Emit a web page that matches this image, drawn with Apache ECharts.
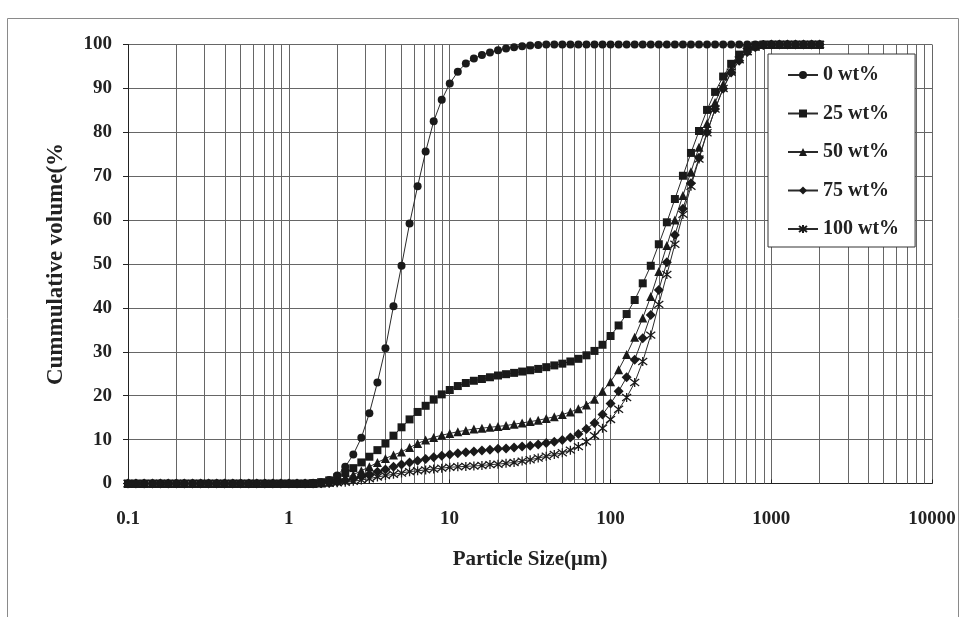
<!DOCTYPE html>
<html>
<head>
<meta charset="utf-8">
<script src="https://cdn.jsdelivr.net/npm/echarts@6/dist/echarts.min.js"></script>
<style>
  html, body { margin: 0; padding: 0; background: #fff; }
  #chart { width: 963px; height: 617px; }
</style>
</head>
<body>
<div id="chart"></div>
<script>
// Particle sizes (µm)
var sizes = [0.1, 0.112, 0.126, 0.142, 0.159, 0.178, 0.2, 0.224, 0.252, 0.283, 0.317, 0.356, 0.399, 0.448, 0.502, 0.564, 0.632, 0.71, 0.796, 0.893,
  1.002, 1.125, 1.262, 1.416, 1.589, 1.783, 2.0, 2.244, 2.518, 2.825, 3.17, 3.557, 3.991, 4.477, 5.024, 5.637, 6.325, 7.096, 7.962, 8.934,
  10.024, 11.247, 12.619, 14.159, 15.887, 17.825, 20.0, 22.44, 25.179, 28.251, 31.698, 35.566, 39.905, 44.774, 50.238, 56.368, 63.246, 70.963, 79.621, 89.337,
  100.237, 112.468, 126.191, 141.589, 158.866, 178.25, 200.0, 224.404, 251.785, 282.508, 316.979, 355.656, 399.052, 447.744, 502.377, 563.677, 632.456, 709.627, 796.214, 893.367,
  1002.374, 1124.683, 1261.915, 1415.892, 1588.656, 1782.502, 2000.0];

// Cumulative volume (%) for each composition
var wt0 = [0, 0, 0, 0, 0, 0, 0, 0, 0, 0, 0, 0, 0, 0, 0, 0, 0, 0, 0, 0,
  0, 0, 0, 0.1, 0.3, 0.8, 1.8, 3.8, 6.6, 10.4, 16.0, 23.0, 30.8, 40.4, 49.6, 59.2, 67.7, 75.6, 82.5, 87.4,
  91.1, 93.8, 95.7, 96.8, 97.6, 98.2, 98.7, 99.1, 99.4, 99.6, 99.8, 99.9, 100, 100, 100, 100, 100, 100, 100, 100,
  100, 100, 100, 100, 100, 100, 100, 100, 100, 100, 100, 100, 100, 100, 100, 100, 100, 100, 100, 100,
  100, 100, 100, 100, 100, 100, 100];
var wt25 = [0, 0, 0, 0, 0, 0, 0, 0, 0, 0, 0, 0, 0, 0, 0, 0, 0, 0, 0, 0,
  0, 0, 0, 0.1, 0.3, 0.7, 1.4, 2.4, 3.5, 4.8, 6.1, 7.6, 9.1, 10.9, 12.8, 14.6, 16.3, 17.7, 19.1, 20.3,
  21.3, 22.2, 22.9, 23.4, 23.8, 24.2, 24.6, 24.9, 25.2, 25.5, 25.8, 26.1, 26.5, 26.9, 27.3, 27.8, 28.4, 29.2, 30.2, 31.6,
  33.6, 36.0, 38.6, 41.8, 45.6, 49.6, 54.5, 59.5, 64.8, 70.1, 75.3, 80.3, 85.1, 89.2, 92.7, 95.6, 97.7, 99.1, 99.8, 100,
  100, 100, 100, 100, 100, 100, 100];
var wt50 = [0, 0, 0, 0, 0, 0, 0, 0, 0, 0, 0, 0, 0, 0, 0, 0, 0, 0, 0, 0,
  0, 0, 0, 0, 0.1, 0.3, 0.7, 1.3, 2.0, 2.9, 3.8, 4.8, 5.7, 6.5, 7.2, 8.2, 9.1, 9.9, 10.5, 11.0,
  11.4, 11.8, 12.1, 12.4, 12.6, 12.8, 13.0, 13.2, 13.5, 13.8, 14.1, 14.4, 14.8, 15.2, 15.7, 16.3, 17.0, 17.9, 19.2, 21.0,
  23.2, 25.9, 29.4, 33.3, 37.7, 42.6, 48.3, 54.2, 60.0, 65.6, 71.0, 76.6, 82.0, 86.8, 90.9, 94.3, 96.8, 98.6, 99.6, 100,
  100, 100, 100, 100, 100, 100, 100];
var wt75 = [0, 0, 0, 0, 0, 0, 0, 0, 0, 0, 0, 0, 0, 0, 0, 0, 0, 0, 0, 0,
  0, 0, 0, 0, 0.05, 0.15, 0.35, 0.7, 1.1, 1.6, 2.1, 2.7, 3.2, 3.8, 4.3, 4.8, 5.2, 5.6, 6.0, 6.3,
  6.6, 6.9, 7.1, 7.3, 7.5, 7.7, 7.9, 8.0, 8.2, 8.4, 8.6, 8.9, 9.2, 9.5, 9.9, 10.5, 11.3, 12.4, 13.8, 15.7,
  18.2, 21.0, 24.2, 28.2, 33.1, 38.4, 44.1, 50.4, 56.6, 62.6, 68.4, 74.2, 80.0, 85.3, 89.9, 93.6, 96.3, 98.3, 99.4, 99.9,
  100, 100, 100, 100, 100, 100, 100];
var wt100 = [0, 0, 0, 0, 0, 0, 0, 0, 0, 0, 0, 0, 0, 0, 0, 0, 0, 0, 0, 0,
  0, 0, 0, 0, 0, 0.05, 0.15, 0.3, 0.5, 0.8, 1.1, 1.5, 1.8, 2.1, 2.4, 2.7, 2.9, 3.1, 3.3, 3.5,
  3.7, 3.8, 3.9, 4.0, 4.1, 4.3, 4.4, 4.6, 4.8, 5.1, 5.4, 5.8, 6.2, 6.6, 7.0, 7.6, 8.4, 9.5, 10.9, 12.6,
  14.6, 16.9, 19.6, 23.0, 27.8, 33.8, 40.8, 47.6, 54.5, 61.3, 67.7, 73.9, 79.9, 85.3, 90.0, 93.7, 96.5, 98.4, 99.5, 99.9,
  100, 100, 100, 100, 100, 100, 100];

var seriesNames = ['0 wt%', '25 wt%', '50 wt%', '75 wt%', '100 wt%'];
var seriesValues = [wt0, wt25, wt50, wt75, wt100];
var xTickValues = [0.1, 1, 10, 100, 1000, 10000];
var xTickLabels = ['0.1', '1', '10', '100', '1000', '10000'];
var yTickLabels = ['0', '10', '20', '30', '40', '50', '60', '70', '80', '90', '100'];

// minor vertical gridlines at 2..9 of each decade
var minorGrid = [];
for (var d = 0; d < xTickValues.length - 1; d++) {
  for (var m = 2; m <= 9; m++) minorGrid.push({ xAxis: +(xTickValues[d] * m).toPrecision(6) });
}

var INK = '#1a1a1a';
var FONT = '"Liberation Serif", "Times New Roman", serif';
var asterisk = 'path://M0,0L10,10M10,0L0,10M5,-1.5L5,11.5';
var symbols = ['circle', 'rect', 'triangle', 'diamond', asterisk];
var symbolSizes = [8, 8, 9, 10, 9];

function pairs(vals) {
  return sizes.map(function (s, i) { return [s, vals[i]]; });
}

var series = seriesNames.map(function (name, k) {
  var isStar = k === 4;
  return {
    name: name,
    type: 'line',
    data: pairs(seriesValues[k]),
    symbol: symbols[k],
    symbolSize: symbolSizes[k],
    showAllSymbol: true,
    clip: false,
    z: 3,
    lineStyle: { color: '#2a2a2a', width: 1 },
    itemStyle: isStar
      ? { color: 'rgba(0,0,0,0)', borderColor: INK, borderWidth: 1.3 }
      : { color: INK, borderColor: INK, borderWidth: 0 },
    emphasis: { disabled: true },
    animation: false
  };
});

series.push({
  name: 'minor-grid',
  type: 'line',
  data: [],
  z: 1,
  silent: true,
  animation: false,
  markLine: {
    silent: true,
    symbol: 'none',
    z: 1,
    animation: false,
    label: { show: false },
    lineStyle: { color: '#666', type: 'solid', width: 1 },
    emphasis: { disabled: true },
    data: minorGrid
  }
});

var chart = echarts.init(document.getElementById('chart'), null, { renderer: 'canvas' });
chart.setOption({
  animation: false,
  backgroundColor: '#ffffff',
  graphic: [{
    type: 'rect',
    shape: { x: 7.5, y: 18.5, width: 951, height: 640 },
    style: { fill: 'none', stroke: '#8a8a8a', lineWidth: 1 },
    silent: true,
    z: 0
  }],
  grid: { left: 128, right: 31, top: 44.5, bottom: 133.5, containLabel: false },
  legend: {
    data: seriesNames,
    orient: 'vertical',
    left: 768,
    top: 54,
    padding: [11, 16, 8, 19],
    itemGap: 18.5,
    itemWidth: 30,
    itemHeight: 10,
    backgroundColor: '#ffffff',
    borderColor: '#333',
    borderWidth: 1,
    borderRadius: 0,
    selectedMode: false,
    textStyle: { fontFamily: FONT, fontWeight: 'bold', fontSize: 20, color: '#222' }
  },
  xAxis: {
    type: 'log',
    logBase: 10,
    min: 0.1,
    max: 10000,
    name: 'Particle Size(\u03bcm)',
    nameLocation: 'middle',
    nameGap: 66,
    nameTextStyle: { fontFamily: FONT, fontWeight: 'bold', fontSize: 21, color: '#222' },
    axisLine: { show: true, onZero: false, lineStyle: { color: '#222', width: 1 } },
    axisTick: { show: true, inside: true, length: 4, lineStyle: { color: '#222' } },
    axisLabel: {
      margin: 26,
      fontFamily: FONT, fontWeight: 'bold', fontSize: 19, color: '#222',
      formatter: function (v) {
        var idx = Math.round(Math.log10(v)) + 1;
        return xTickLabels[idx] !== undefined ? xTickLabels[idx] : '';
      }
    },
    splitLine: { show: true, lineStyle: { color: '#666', width: 1 } },
    minorTick: { show: false },
    minorSplitLine: { show: false }
  },
  yAxis: {
    type: 'value',
    min: 0,
    max: 100,
    interval: 10,
    name: 'Cummulative volume(%',
    nameLocation: 'middle',
    nameGap: 60,
    nameRotate: 90,
    nameTextStyle: { fontFamily: FONT, fontWeight: 'bold', fontSize: 23, color: '#222' },
    axisLine: { show: true, lineStyle: { color: '#222', width: 1 } },
    axisTick: { show: true, length: 5, lineStyle: { color: '#222' } },
    axisLabel: {
      margin: 16,
      fontFamily: FONT, fontWeight: 'bold', fontSize: 19, color: '#222',
      formatter: function (v) { return yTickLabels[Math.round(v / 10)]; }
    },
    splitLine: { show: true, lineStyle: { color: '#666', width: 1 } }
  },
  series: series
});
</script>
</body>
</html>
